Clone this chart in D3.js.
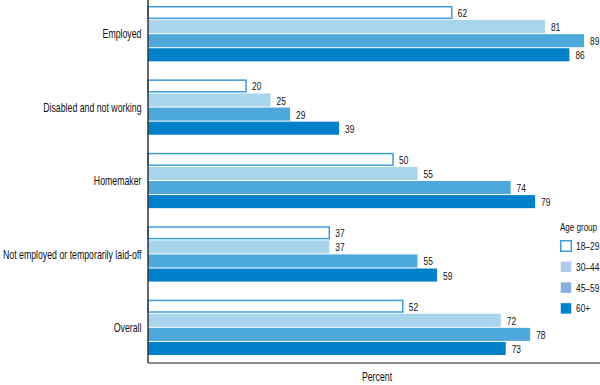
<!DOCTYPE html>
<html lang='en'>
<head>
  <meta charset='utf-8'/>
  <title>Employment status by age group</title>
  <script src='https://d3js.org/d3.v7.min.js'></script>
  <style>
    body{margin:0;background:#ffffff;}
    svg text{font-family:'Liberation Sans',Arial,sans-serif;fill:#111;}
  </style>
</head>
<body>
<svg id='chart' width='600' height='385'></svg>
<script>
// Data
const categories = ['Employed', 'Disabled and not working', 'Homemaker', 'Not employed or temporarily laid-off', 'Overall'];
const ageGroups  = ['18–29', '30–44', '45–59', '60+'];
const values = {
  '18–29': [62, 20, 50, 37, 52],
  '30–44': [81, 25, 55, 37, 72],
  '45–59': [89, 29, 74, 55, 78],
  '60+':   [86, 39, 79, 59, 73]
};

// Colours: bars and legend swatches differ slightly in the original
const barFill    = d3.scaleOrdinal().domain(ageGroups).range(['#ffffff', '#a8d4ec', '#4fa8dc', '#0081c9']);
const swatchFill = d3.scaleOrdinal().domain(ageGroups).range(['#ffffff', '#b0cbea', '#8aaede', '#0081c9']);
const blueLine   = '#3d9be0';
const narrow     = 0.73; // horizontal squeeze to mimic the condensed face

const svg = d3.select('#chart');

const x  = d3.scaleLinear().domain([0, 100]).range([148, 638]);
const y0 = d3.scaleBand().domain(categories).range([6, 356]).paddingInner(0.233);
const y1 = d3.scaleBand().domain(ageGroups).range([0, y0.bandwidth()]);

const rows = categories.flatMap((c, i) => ageGroups.map(g => ({cat: c, group: g, value: values[g][i]})));

// Bars
svg.append('g').selectAll('rect')
  .data(rows)
  .join('rect')
    .attr('x', x(0))
    .attr('y', d => y0(d.cat) + y1(d.group) + (d.group === '18–29' ? 0.75 : 0))
    .attr('width', d => x(d.value) - x(0))
    .attr('height', d => y1.bandwidth() - (d.group === '18–29' ? 2.5 : 1))
    .attr('fill', d => barFill(d.group))
    .attr('stroke', d => d.group === '18–29' ? blueLine : 'none')
    .attr('stroke-width', 1.5);

// Value labels
svg.append('g').selectAll('text')
  .data(rows)
  .join('text')
    .attr('transform', d => `translate(${x(d.value) + 6},${y0(d.cat) + y1(d.group) + y1.bandwidth() / 2}) scale(${narrow},1)`)
    .attr('dy', '0.35em')
    .attr('font-size', 11.5)
    .text(d => d.value);

// Category labels
svg.append('g').selectAll('text')
  .data(categories)
  .join('text')
    .attr('transform', d => `translate(141.5,${y0(d) + y0.bandwidth() / 2}) scale(${narrow},1)`)
    .attr('dy', '0.35em')
    .attr('text-anchor', 'end')
    .attr('font-size', 12)
    .text(d => d);

// Axes
svg.append('line')
  .attr('x1', 148).attr('x2', 600).attr('y1', 363).attr('y2', 363)
  .attr('stroke', '#8a8a8a').attr('stroke-width', 2);
svg.append('line')
  .attr('x1', 148).attr('x2', 148).attr('y1', 0).attr('y2', 363)
  .attr('stroke', '#333').attr('stroke-width', 1.5);

svg.append('text')
  .attr('transform', `translate(377,381) scale(${narrow},1)`)
  .attr('text-anchor', 'middle')
  .attr('font-size', 12)
  .text('Percent');

// Legend
const legend = svg.append('g').attr('transform', 'translate(560,228)');
legend.append('text')
  .attr('transform', `translate(0,3) scale(${narrow},1)`)
  .attr('font-size', 11)
  .text('Age group');
const items = legend.selectAll('g.item')
  .data(ageGroups)
  .join('g')
    .attr('class', 'item')
    .attr('transform', (d, i) => `translate(0,${12 + i * 20.8})`);
items.append('rect')
  .attr('x', 0.75).attr('y', 0.75)
  .attr('width', 10.5).attr('height', 10.5)
  .attr('fill', d => swatchFill(d))
  .attr('stroke', d => d === '18–29' ? blueLine : 'none')
  .attr('stroke-width', 1.5);
items.append('text')
  .attr('transform', `translate(16,6) scale(${narrow},1)`)
  .attr('dy', '0.35em')
  .attr('font-size', 11.5)
  .text(d => d);
</script>
</body>
</html>
